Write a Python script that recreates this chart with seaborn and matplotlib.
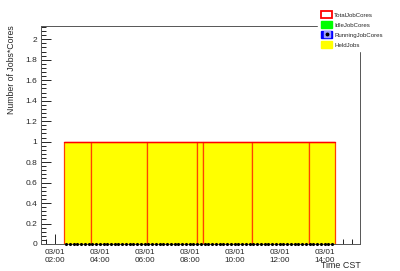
import numpy as np
import pandas as pd
import matplotlib
matplotlib.use("Agg")
import matplotlib.pyplot as plt
import seaborn as sns
from matplotlib.patches import Patch
from matplotlib.lines import Line2D
from matplotlib.legend_handler import HandlerTuple
from matplotlib.ticker import MultipleLocator

# ---- data (hours of 03/01, CST) ----
held_edges = [2.41, 3.60, 6.10, 8.30, 8.59, 10.77, 13.29, 14.46]
held_values = [1, 1, 1, 1, 1, 1, 1]
total_values = [1, 1, 1, 1, 1, 1, 1]
running_times = list(np.arange(2.49, 14.46, 1 / 6))
running_values = [0] * len(running_times)
tick_hours = [2, 4, 6, 8, 10, 12, 14]
tick_labels = ["03/01\n%02d:00" % h for h in tick_hours]

sns.set_theme(style="white")
plt.rcParams["font.family"] = ["Liberation Sans", "DejaVu Sans"]

fig = plt.figure(figsize=(4.0, 2.71), dpi=100)
ax = fig.add_axes([41 / 400, 1 - 244 / 271, (360 - 41) / 400, (244 - 26) / 271])

centers = [(a + b) / 2 for a, b in zip(held_edges[:-1], held_edges[1:])]
df = pd.DataFrame({"t": centers, "held": held_values, "total": total_values})

sns.histplot(data=df, x="t", weights="held", bins=held_edges, ax=ax,
             color="#ffff00", alpha=1.0, element="bars", stat="count")
for p in ax.patches:
    p.set_edgecolor("#ff4400")
    p.set_linewidth(0.9)
    p.set_facecolor("#ffff00")
sns.histplot(data=df, x="t", weights="total", bins=held_edges, ax=ax,
             element="step", fill=False, color="#ff0000", linewidth=1.0)

rd = pd.DataFrame({"t": running_times, "v": running_values})
sns.scatterplot(data=rd, x="t", y="v", ax=ax, color="black", marker="o",
                s=5, linewidth=0, zorder=5, clip_on=False)

ax.set_xlim(1.378, 15.56)
ax.set_ylim(0, 2.13)
ax.set_xlabel("")
ax.set_ylabel("")

ax.set_xticks(tick_hours)
ax.set_xticklabels(tick_labels, fontsize=5.9, linespacing=1.3)
ax.xaxis.set_minor_locator(MultipleLocator(0.4))
ax.yaxis.set_minor_locator(MultipleLocator(0.04))
ax.set_yticks([0, 0.2, 0.4, 0.6, 0.8, 1.0, 1.2, 1.4, 1.6, 1.8, 2.0])
ax.set_yticklabels(["0", "0.2", "0.4", "0.6", "0.8", "1", "1.2", "1.4", "1.6", "1.8", "2"], fontsize=6.0)

ax.tick_params(axis="both", which="major", direction="in", length=7, width=0.6,
               color="black", pad=2.5, bottom=True, left=True, top=False, right=False)
ax.tick_params(axis="both", which="minor", direction="in", length=3.5, width=0.6,
               color="black", bottom=True, left=True, top=False, right=False)
ax.tick_params(axis="x", which="major", pad=3.5)

for s in ax.spines.values():
    s.set_color("#555555")
    s.set_linewidth(0.7)
    s.set_visible(True)

fig.text(12 / 400, 1 - 25 / 271, "Number of Jobs*Cores", rotation=90,
         ha="center", va="top", fontsize=6.3)
fig.text(321 / 400, 1 - 266 / 271, "Time CST", ha="left", va="center", fontsize=6.4)

handles = [
    Patch(facecolor="white", edgecolor="#ff0000", linewidth=1.3),
    Patch(facecolor="#00ff00", edgecolor="#00ff00"),
    (Patch(facecolor="#0000ff", edgecolor="#0000ff"),
     Line2D([], [], marker="s", color="#a0a0ff", markersize=4.2, linestyle="none"),
     Line2D([], [], marker="o", color="black", markersize=1.8, linestyle="none")),
    Patch(facecolor="#ffff00", edgecolor="#ffff00"),
]
labels = ["TotalJobCores", "IdleJobCores", "RunningJobCores", "HeldJobs"]
leg = fig.legend(handles, labels, loc="upper left",
                 bbox_to_anchor=(318 / 400, 1 - 8 / 271),
                 fontsize=4.4, frameon=True, framealpha=1.0, edgecolor="white",
                 facecolor="white", fancybox=False,
                 handlelength=1.75, handleheight=1.25, handletextpad=0.35,
                 labelspacing=0.58, borderpad=0.55, borderaxespad=0,
                 handler_map={tuple: HandlerTuple(ndivide=1, pad=0)})

fig.savefig("out.png", dpi=100, facecolor="white")
